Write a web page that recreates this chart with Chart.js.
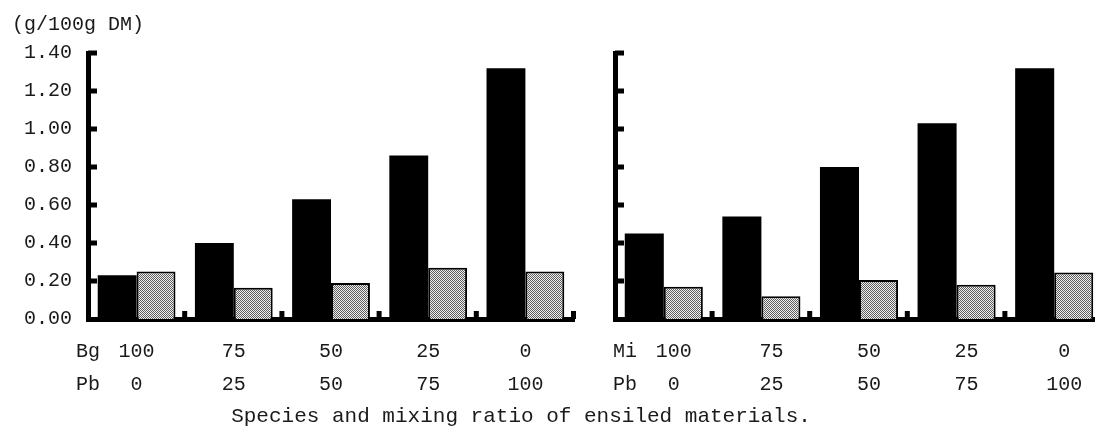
<!DOCTYPE html>
<html>
<head>
<meta charset="utf-8">
<script src="https://cdn.jsdelivr.net/npm/chart.js@4.4.1/dist/chart.umd.min.js"></script>
<style>
  html, body { margin: 0; padding: 0; width: 1095px; height: 433px; overflow: hidden; background: #fff; }
  #left { position: absolute; left: 0; top: 0; width: 600px; height: 433px; }
  #right { position: absolute; left: 600px; top: 0; width: 510px; height: 433px; }
  #xtitle { position: absolute; left: 0; top: 405px; width: 1042px; text-align: center;
            font: 21px "Liberation Mono", monospace; color: #1a1a1a; white-space: nowrap; }
</style>
</head>
<body>
<div id="left"><canvas id="c1"></canvas></div>
<div id="right"><canvas id="c2"></canvas></div>
<div id="xtitle">Species and mixing ratio of ensiled materials.</div>
<script>
// ---- data ----
const categories = ['G1', 'G2', 'G3', 'G4', 'G5'];
const ratioTop = ['100', '75', '50', '25', '0'];
const ratioBottom = ['0', '25', '50', '75', '100'];
const leftSpecies = ['Bg', 'Pb'];
const rightSpecies = ['Mi', 'Pb'];
const leftBlack = [0.23, 0.40, 0.63, 0.86, 1.32];
const leftGray = [0.25, 0.165, 0.19, 0.27, 0.25];
const rightBlack = [0.45, 0.54, 0.80, 1.03, 1.32];
const rightGray = [0.17, 0.12, 0.205, 0.18, 0.245];
const yTickValues = [0, 0.2, 0.4, 0.6, 0.8, 1.0, 1.2, 1.4];
const unitLabel = '(g/100g DM)';

// ---- styles ----
const FONT = '"Liberation Mono", monospace';
const TXT = '#1a1a1a';

function stipple() {
  const c = document.createElement('canvas');
  c.width = 2; c.height = 2;
  const g = c.getContext('2d');
  g.fillStyle = '#f0f0f0'; g.fillRect(0, 0, 2, 2);
  g.fillStyle = '#5e5e5e'; g.fillRect(0, 0, 1, 1); g.fillRect(1, 1, 1, 1);
  return g.createPattern(c, 'repeat');
}

const axisMarks = {
  id: 'axisMarks',
  afterDraw(chart) {
    const { ctx, chartArea: a, scales } = chart;
    const x = scales.x, y = scales.y;
    ctx.save();
    ctx.fillStyle = '#000';
    y.ticks.forEach(t => {
      if (t.value === 0) return;
      const py = y.getPixelForValue(t.value);
      ctx.fillRect(a.left, py - 2.5, 9, 5);
    });
    const w = x.getPixelForValue(1) - x.getPixelForValue(0);
    for (let i = 0; i < categories.length; i++) {
      const bx = x.getPixelForValue(i) + w / 2;
      ctx.fillRect(bx - 3, a.bottom - 8, 5, 8);
    }
    ctx.restore();
  }
};

function makeChart(canvasId, blackVals, grayVals, species, isLeft) {
  const pattern = stipple();
  const labelPositions = [-0.5, 0, 1, 2, 3, 4];
  return new Chart(document.getElementById(canvasId), {
    type: 'bar',
    data: {
      labels: categories,
      datasets: [
        { label: 'black', data: blackVals, backgroundColor: '#000', borderWidth: 0,
          categoryPercentage: 0.8, barPercentage: 1.0 },
        { label: 'gray', data: grayVals, backgroundColor: pattern, borderColor: '#000', borderWidth: 2,
          categoryPercentage: 0.8, barPercentage: 1.0 }
      ]
    },
    options: {
      responsive: true,
      maintainAspectRatio: false,
      animation: false,
      devicePixelRatio: 1,
      layout: { padding: isLeft ? { left: 12, right: 26, top: 0, bottom: 0 } : { left: 0, right: 7, top: 53, bottom: 0 } },
      plugins: {
        legend: { display: false },
        tooltip: { enabled: false },
        title: {
          display: isLeft,
          text: unitLabel,
          align: 'start',
          color: TXT,
          font: { family: FONT, size: 20, weight: 'normal', lineHeight: 1.2 },
          padding: { top: 13, bottom: 16 }
        }
      },
      scales: {
        x: {
          type: 'category',
          position: 'bottom',
          weight: 0,
          grid: { display: false, drawTicks: false },
          border: { display: true, width: 5, color: '#000' },
          ticks: { display: false },
          afterFit(s) { s.height = 0; }
        },
        x2: {
          type: 'linear',
          position: 'bottom',
          weight: 1,
          offset: false,
          bounds: 'data',
          min: -0.5,
          max: 4.5,
          grid: { display: false, drawTicks: false, offset: false },
          border: { display: false },
          afterBuildTicks(s) {
            s.ticks = labelPositions.map(v => ({ value: v }));
          },
          ticks: {
            autoSkip: false,
            maxRotation: 0,
            padding: 16.5,
            labelOffset: isLeft ? 0 : 10,
            color: TXT,
            font: { family: FONT, size: 20, lineHeight: 1.65 },
            callback(value, index) {
              if (index === 0) return species;
              return [ratioTop[index - 1], ratioBottom[index - 1]];
            }
          },
          afterFit(s) { s.height = 114; s.paddingLeft = 0; s.paddingRight = 0; }
        },
        y: {
          min: 0,
          max: 1.4,
          position: 'left',
          grid: { display: false, drawTicks: false },
          border: { display: true, width: 5, color: '#000' },
          afterBuildTicks(s) { s.ticks = yTickValues.map(v => ({ value: v })); },
          ticks: {
            display: isLeft,
            padding: 16,
            color: TXT,
            font: { family: FONT, size: 20 },
            callback(v) { return Number(v).toFixed(2); }
          },
          afterFit(s) { s.width = isLeft ? 76 : 15; }
        }
      }
    },
    plugins: [axisMarks]
  });
}

makeChart('c1', leftBlack, leftGray, leftSpecies, true);
makeChart('c2', rightBlack, rightGray, rightSpecies, false);
</script>
</body>
</html>
